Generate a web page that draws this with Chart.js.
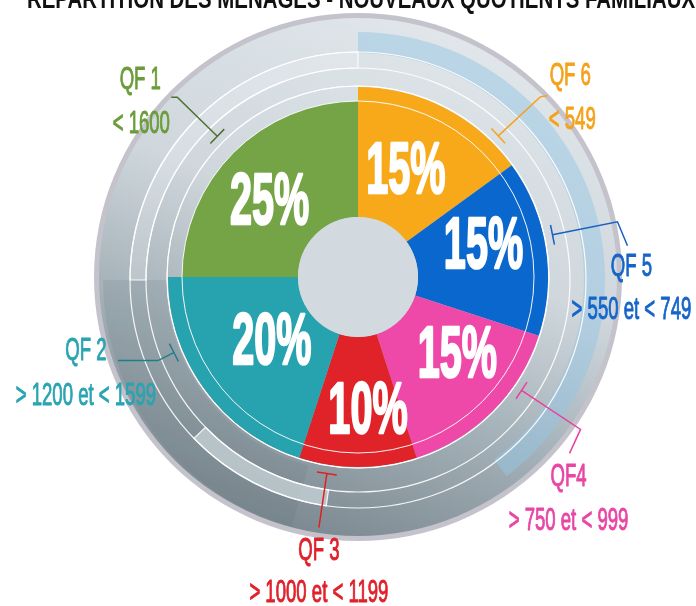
<!DOCTYPE html>
<html><head><meta charset="utf-8">
<script src="https://cdn.jsdelivr.net/npm/chart.js@4.4.1/dist/chart.umd.min.js"></script>
<style>html,body{margin:0;padding:0;background:#fff;}#wrap{width:696px;height:606px;position:relative;}</style>
</head><body><div id="wrap"><canvas id="c" width="696" height="606"></canvas></div>
<script>
// ---- data ----
const title = 'RÉPARTITION DES MÉNAGES - NOUVEAUX QUOTIENTS FAMILIAUX';
const categories = ['QF 6', 'QF 5', 'QF4', 'QF 3', 'QF 2', 'QF 1'];
const ranges = ['< 549', '> 550 et < 749', '> 750 et < 999', '> 1000 et < 1199', '> 1200 et < 1599', '< 1600'];
const values = [15, 15, 15, 10, 20, 25];

// ---- style ----
const sliceColors = ['#f8a91a', '#0a67cd', '#ee49a8', '#e02329', '#27a2af', '#74a446'];
const textColors = ['#f5a21b', '#1565c9', '#e945a5', '#e0202a', '#2aa3b2', '#6b9c3a'];
const leaderColors = ['#f4a21f', '#1a5fc0', '#e8409f', '#e02020', '#1f7f86', '#4f6f2e'];
const pctNudge = [[-9, 6], [2, -11], [11, -10], [10, 9], [15, -8], [0, 14]];
const leaderLayout = [
  {frac: 0.83, pts: [[42, -39], [49, -40]], t1: [72, -60], t2: [74, -16]},
  {frac: 0.44, pts: [[65, -13], [75, 11]], t1: [79, 32], t2: [79, 75]},
  {frac: 0.31, pts: [[59, 39], [48, 63]], t1: [47, 87], t2: [47, 131]},
  {frac: 0.75, pts: [[-8, 54]], t1: [-8, 78], t2: [-8, 120]},
  {frac: 0.69, pts: [[-16, 8], [-56, 8]], t1: [-88, -1], t2: [-88, 44]},
  {frac: 0.5, pts: [[-40, -39], [-46, -39]], t1: [-77, -56], t2: [-76, -12]}
];

function drawText(ctx, text, x, y, font, color, sx, stroke) {
  ctx.save();
  ctx.translate(x, y);
  ctx.scale(sx, 1);
  ctx.font = font;
  ctx.fillStyle = color;
  ctx.textAlign = 'center';
  ctx.textBaseline = 'middle';
  if (stroke) { ctx.strokeStyle = color; ctx.lineWidth = stroke; ctx.lineJoin = 'round'; ctx.strokeText(text, 0, 0); }
  ctx.fillText(text, 0, 0);
  ctx.restore();
}
function ring(ctx, cx, cy, r0, r1, a0, a1) {
  ctx.beginPath();
  ctx.arc(cx, cy, r1, a0, a1);
  ctx.arc(cx, cy, r0, a1, a0, true);
  ctx.closePath();
}
const D = Math.PI / 180;
const th = t => (t - 90) * D; // degrees clockwise from top -> canvas angle

const bgPlugin = {
  id: 'bg',
  beforeDatasetsDraw(chart) {
    const ctx = chart.ctx;
    const a = chart.getDatasetMeta(0).data[0];
    const cx = a.x, cy = a.y;
    ctx.save();
    // rim
    ctx.beginPath(); ctx.arc(cx, cy, 264, 0, 2 * Math.PI);
    ctx.fillStyle = '#c4c2cb'; ctx.fill();
    // disk
    const g = ctx.createLinearGradient(cx + 90, cy - 260, cx - 100, cy + 250);
    g.addColorStop(0, '#e1e7eb');
    g.addColorStop(0.42, '#cfd7dc');
    g.addColorStop(0.7, '#a3b0b7');
    g.addColorStop(1, '#7a878e');
    ctx.beginPath(); ctx.arc(cx, cy, 259, 0, 2 * Math.PI);
    ctx.fillStyle = g; ctx.fill();
    // blue band
    ring(ctx, cx, cy + 2, 226, 247, th(0), th(143));
    ctx.fillStyle = 'rgba(150,198,228,0.5)'; ctx.fill();
    // dark band lower-left
    ring(ctx, cx, cy + 3, 192, 255, th(195), th(270));
    ctx.fillStyle = 'rgba(80,95,103,0.12)'; ctx.fill();
    // light outlined arcs
    ctx.strokeStyle = 'rgba(255,255,255,0.9)'; ctx.lineWidth = 1.2;
    ring(ctx, cx, cy + 3, 212, 228, th(270), th(360));
    ctx.fillStyle = 'rgba(240,244,246,0.25)'; ctx.fill(); ctx.stroke();
    ring(ctx, cx, cy + 3, 212, 228, th(188), th(226));
    ctx.fillStyle = 'rgba(200,212,218,0.75)'; ctx.fill(); ctx.stroke();
    // white rings
    [212, 228].forEach(r => { ctx.beginPath(); ctx.arc(cx, cy + 3, r, 0, 2 * Math.PI); ctx.stroke(); });
    ctx.beginPath(); ctx.arc(cx, cy, 191, 0, 2 * Math.PI); ctx.stroke();
    ctx.restore();
  },
  afterDatasetsDraw(chart) {
    const ctx = chart.ctx;
    const meta = chart.getDatasetMeta(1);
    const outer = chart.getDatasetMeta(0).data[0];
    const cx = outer.x, cy = outer.y;
    ctx.save();
    // white lines over the pie
    ctx.strokeStyle = 'rgba(255,255,255,0.9)'; ctx.lineWidth = 1;
    ctx.beginPath(); ctx.arc(cx, cy, 176, 0, 2 * Math.PI); ctx.stroke();
    ctx.beginPath(); ctx.arc(cx, cy, 191, 0, 2 * Math.PI); ctx.stroke();
    // hole
    ctx.beginPath(); ctx.arc(cx, cy, meta.data[0].innerRadius, 0, 2 * Math.PI);
    ctx.fillStyle = '#d2dadf'; ctx.fill();
    // percentage labels
    const rOut = outer.outerRadius;
    meta.data.forEach((arc, i) => {
      const mid = (arc.startAngle + arc.endAngle) / 2;
      const r = (arc.innerRadius + rOut) / 2;
      drawText(ctx, values[i] + '%', cx + r * Math.cos(mid) + pctNudge[i][0], cy + r * Math.sin(mid) + 2 + pctNudge[i][1],
        'bold 72px "Liberation Sans", Arial, sans-serif', '#ffffff', 0.55, 2.5);
    });
    // leaders + outer labels
    meta.data.forEach((arc, i) => {
      const L = leaderLayout[i];
      const ang = arc.startAngle + L.frac * (arc.endAngle - arc.startAngle);
      const R = rOut + 9;
      const tx = cx + R * Math.cos(ang), ty = cy + R * Math.sin(ang);
      ctx.strokeStyle = leaderColors[i]; ctx.lineWidth = 1.5;
      ctx.beginPath(); ctx.moveTo(tx, ty);
      L.pts.forEach(p => ctx.lineTo(tx + p[0], ty + p[1]));
      ctx.stroke();
      const dx = L.pts[0][0], dy = L.pts[0][1], len = Math.hypot(dx, dy);
      const nx = -dy / len * 10, ny = dx / len * 10;
      ctx.beginPath(); ctx.moveTo(tx - nx, ty - ny); ctx.lineTo(tx + nx, ty + ny); ctx.stroke();
      const f = '32px "Liberation Sans", Arial, sans-serif';
      drawText(ctx, categories[i], tx + L.t1[0], ty + L.t1[1], f, textColors[i], 0.58, 1);
      drawText(ctx, ranges[i], tx + L.t2[0], ty + L.t2[1], f, textColors[i], 0.58, 1);
    });
    ctx.restore();
  },
  afterDraw(chart) {
    const ctx = chart.ctx;
    ctx.save();
    ctx.font = 'bold 27px "Liberation Sans", Arial, sans-serif';
    const w = ctx.measureText(title).width;
    const sx = 668 / w;
    ctx.translate(27, 8);
    ctx.scale(sx, 1);
    ctx.fillStyle = '#111';
    ctx.textAlign = 'left';
    ctx.textBaseline = 'alphabetic';
    ctx.fillText(title, 0, 0);
    ctx.restore();
  }
};

new Chart(document.getElementById('c'), {
  type: 'doughnut',
  data: {
    labels: categories,
    datasets: [
      {data: values, weight: 14, borderWidth: 0,
       backgroundColor: sliceColors.map((c, i) => i === 5 ? 'rgba(0,0,0,0)' : c)},
      {data: values, weight: 116, borderWidth: 0, backgroundColor: sliceColors}
    ]
  },
  options: {
    responsive: false,
    animation: false,
    radius: 190,
    cutout: '31.6%',
    events: [],
    layout: {padding: {left: 20, right: 0, top: 0, bottom: 52}},
    plugins: {legend: {display: false}, tooltip: {enabled: false}, title: {display: false}}
  },
  plugins: [bgPlugin]
});
</script>
</body></html>
